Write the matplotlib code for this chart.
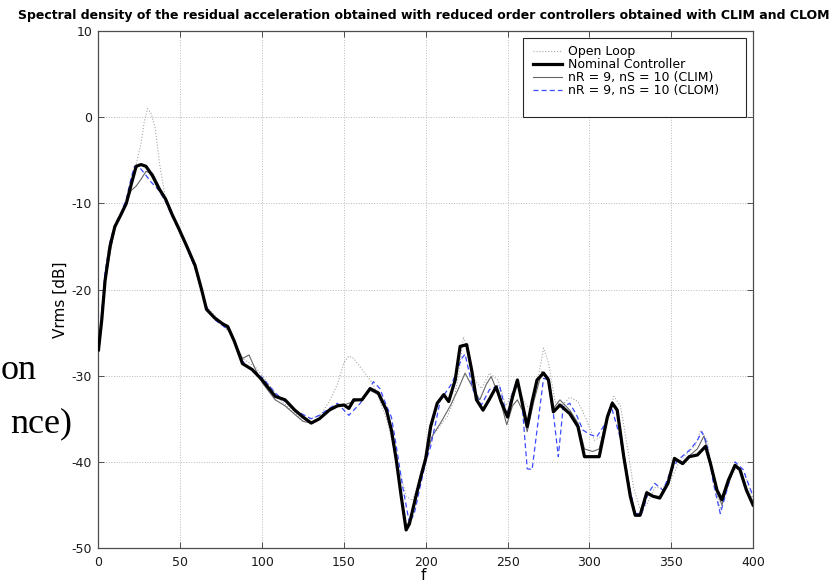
import matplotlib
matplotlib.use('Agg')
import matplotlib.pyplot as plt
from matplotlib.patches import Rectangle

# frequency grids / curves (dB)
f_nom = [0, 2, 4, 7, 10, 14, 17, 20, 23, 26,
         29, 33, 37, 41, 45, 49, 54, 59, 63, 66,
         71, 76, 79, 83, 88, 94, 100, 108, 114, 120,
         125, 130, 135, 141, 146, 150, 153, 156, 161, 166,
         171, 176, 179, 182, 185, 188, 190, 194, 197, 200,
         203, 207, 211, 214, 218, 221, 225, 228, 231, 235,
         239, 243, 246, 250, 253, 256, 259, 262, 265, 268,
         272, 275, 278, 282, 288, 293, 297, 302, 306, 311,
         314, 317, 321, 325, 328, 331, 335, 339, 343, 348,
         352, 357, 361, 366, 371, 374, 378, 381, 385, 389,
         392, 396, 400]
nominal = [-27, -23.5, -19, -15, -12.7, -11.2, -10, -7.8, -5.7, -5.5,
           -5.7, -6.8, -8.3, -9.5, -11.3, -12.9, -15, -17.2, -20, -22.3,
           -23.3, -24, -24.3, -26, -28.6, -29.3, -30.5, -32.4, -32.8, -34,
           -34.8, -35.5, -35, -34, -33.5, -33.4, -33.8, -32.8, -32.8, -31.5,
           -32, -34, -36.3, -39.8, -44, -47.9, -47.2, -44, -41.7, -39.6,
           -35.9, -33.2, -32.2, -33, -30.5, -26.6, -26.4, -29.3, -32.8, -34,
           -32.7, -31.3, -33, -34.8, -32.5, -30.5, -33.2, -35.9, -33, -30.5,
           -29.7, -30.5, -34.2, -33.4, -34.4, -35.9, -39.4, -39.4, -39.4, -34.8,
           -33.2, -34, -39.4, -44, -46.2, -46.2, -43.6, -44, -44.2, -42.5,
           -39.6, -40.2, -39.4, -39.2, -38.2, -40.2, -43.3, -44.4, -42.1, -40.4,
           -40.9, -43.3, -45]

f_clom = [0, 2, 4, 7, 10, 14, 17, 20, 22, 25,
          28, 32, 37, 41, 45, 49, 54, 59, 63, 66,
          71, 76, 80, 84, 88, 94, 100, 108, 114, 120,
          125, 130, 135, 141, 146, 153, 160, 164, 168, 172,
          176, 179, 182, 186, 190, 193, 197, 200, 203, 209,
          212, 216, 222, 224, 229, 234, 239, 245, 249.5, 253,
          256, 259, 262, 265, 268, 272, 275, 278, 281, 284,
          288, 292, 296, 300, 304.5, 308.6, 313.7, 318.7, 322.8, 328,
          332, 336, 340, 345, 349, 354, 361.5, 366, 368.7, 371.7,
          375.8, 380, 384, 389, 394, 400]
clom = [-27, -22.5, -18, -14.5, -12.5, -11, -9.5, -7, -5.7, -5.8,
        -6.5, -7.5, -8.5, -9.8, -11.5, -13, -15.2, -17.5, -20.2, -22,
        -23.5, -24.2, -24.8, -26.5, -28.3, -29.5, -30.2, -32, -33, -34,
        -34.5, -35, -34.6, -33.8, -33.2, -34.6, -33.2, -32, -30.7, -31.5,
        -33.5, -34.8, -38.2, -43, -47.1, -46, -42.5, -40, -38.2, -32.8,
        -32, -30.9, -28, -27.5, -31.7, -33.4, -31.6, -31.1, -34.6, -32,
        -30.5, -33.6, -40.8, -40.9, -36.3, -30.3, -30.5, -34.4, -39.4, -33.6,
        -33.2, -34.5, -36.3, -36.8, -37.1, -35.9, -33.8, -37.1, -41.4, -46,
        -46, -43.6, -42.5, -43.3, -41.4, -39.8, -38.6, -37.5, -36.5, -37.8,
        -42.5, -46, -43.3, -40, -40.9, -44]

f_clim = [0, 4, 10, 17, 20, 23, 26, 29, 33, 37,
          41, 45, 49, 54, 59, 63, 66, 71, 76, 80,
          84, 88, 92, 96, 100, 108, 114, 120, 125, 130,
          135, 141, 146, 150, 156, 161, 166, 171, 176, 179,
          182, 185, 188, 191, 195, 200, 204, 209, 215, 220,
          224, 229, 233, 237, 240, 245, 249.5, 253, 256, 259,
          262, 266, 271, 275, 278, 282, 288, 293, 297, 302,
          306, 311, 314, 317, 321, 325, 328, 331, 335, 339,
          343, 348, 352, 357, 361, 366, 370, 374, 378, 381,
          385, 389, 392, 396, 400]
clim = [-27, -19, -12.8, -10, -8.5, -8, -7.2, -6.3, -6.5, -8,
        -9.5, -11.3, -12.9, -15, -17.2, -20, -22.3, -23.3, -24, -24.8,
        -26.5, -28, -27.6, -29.3, -30.8, -32.8, -33.5, -34.5, -35.3, -35.5,
        -35, -34, -33.6, -33.4, -33, -32.7, -31.7, -32.2, -34.2, -36.5,
        -40, -44, -47.5, -46.5, -43, -39.5, -37, -35.5, -33.5, -31.5,
        -29.7, -31.5, -32.8, -31, -30.1, -32.5, -35.7, -33.5, -32.8, -34,
        -36.5, -33, -29.5, -30.2, -33.8, -32.8, -34, -35.5, -38.5, -38.8,
        -38.5, -34.5, -33, -33.8, -39, -43.5, -46, -46, -43.4, -44,
        -44, -42.3, -39.8, -40.3, -39.3, -38.5, -37, -40, -43.5, -45,
        -42.5, -40.5, -41, -43.3, -45]

f_open = [0, 4, 10, 17, 20, 23, 26, 28, 30, 32,
          34.5, 37.5, 41, 45, 49, 54, 59, 63, 66, 71,
          76, 80, 84, 88, 92, 96, 100, 106, 112, 118,
          124, 130, 136, 141, 146, 150, 153, 156, 160, 164,
          168, 172, 176, 180, 184, 188, 192, 196, 200, 204,
          208, 213, 217, 220, 223, 226, 230, 234, 239, 244,
          249, 253, 256, 260, 264, 268, 272, 275, 279, 283,
          288, 293, 298, 303, 308, 311, 315, 319, 323, 327,
          331, 335, 340, 345, 350, 355, 360, 365, 368, 372,
          376, 380, 385, 390, 395, 400]
open_loop = [-27, -18.8, -12.5, -10, -8, -5.5, -3, -0.5, 1, 0.5,
             -1.1, -5.6, -9.5, -11.5, -13, -15, -17.5, -20, -22, -23,
             -24.2, -25, -26.3, -28, -28.5, -29, -30, -31.5, -33, -34,
             -35, -35, -34.5, -33, -31, -28.5, -27.7, -28, -29, -30,
             -31, -33, -35, -38, -41, -44, -44.5, -42, -39, -37,
             -36, -34.8, -33, -30, -25.5, -27, -30.5, -31.5, -29.7, -30.5,
             -33.5, -32, -31, -33, -34, -31, -26.8, -28.5, -33, -33.5,
             -32.5, -33, -35, -37.5, -37, -35, -32.4, -33.5, -38, -43,
             -45.5, -45, -43, -43, -42, -40, -39, -38, -36.3, -37.5,
             -42, -45.5, -42.5, -40.5, -41.5, -44.5]

labels = ["Open Loop", "Nominal Controller",
          "nR = 9, nS = 10 (CLIM)", "nR = 9, nS = 10 (CLOM)"]
title_text = ("Spectral density of the residual acceleration obtained with "
              "reduced order controllers obtained with CLIM and CLOM")

plt.rcParams['font.family'] = 'DejaVu Sans'
plt.rcParams['axes.unicode_minus'] = False

fig = plt.figure(figsize=(8.34, 5.84), dpi=100)
ax = fig.add_axes([0.1181, 0.0616, 0.7848, 0.8853])

ax.plot(f_open, open_loop, color='0.65', lw=0.8, ls=':', label=labels[0], zorder=2)
ax.plot(f_nom, nominal, color='black', lw=2.3, label=labels[1], zorder=5)
ax.plot(f_clim, clim, color='0.4', lw=0.8, label=labels[2], zorder=3)
ax.plot(f_clom, clom, color='#3a4cff', lw=0.9, ls=(0, (4, 2.5)), label=labels[3], zorder=4)

ax.set_xlim(0, 400)
ax.set_ylim(-50, 10)
ax.set_xticks(range(0, 401, 50))
ax.set_yticks(range(-50, 11, 10))
ax.grid(True, color='0.72', ls=':', lw=0.7)
ax.tick_params(direction='in', top=True, right=True, length=4, width=0.7,
               color='0.3', labelsize=9, labelcolor='0.1')
ax.tick_params(axis='x', pad=6)
ax.tick_params(axis='y', pad=4.5)
for s in ax.spines.values():
    s.set_color('0.3')
    s.set_linewidth(0.9)

ax.set_xlabel('f', fontsize=11)
ax.xaxis.set_label_coords(0.496, -0.054)
ax.xaxis.label.set_va('center')
ax.set_ylabel('Vrms [dB]', fontsize=11)
ax.yaxis.set_label_coords(-0.059, 0.48)
ax.yaxis.label.set_va('center')

# MATLAB style legend box
box = Rectangle((0.6486, 0.8337), 0.3407, 0.1528, transform=ax.transAxes,
                facecolor='white', edgecolor='0.15', lw=0.8, zorder=6)
ax.add_patch(box)
leg = ax.legend(loc='upper left', bbox_to_anchor=(0.6639, 0.972), frameon=False,
                fontsize=9, borderpad=0, borderaxespad=0, labelspacing=0.0,
                handlelength=2.3, handletextpad=0.5)
leg.set_zorder(7)

title = fig.text(424 / 834, 1 - 16 / 584, title_text, ha='center', va='center',
                 fontsize=9, fontweight='bold')
fig.canvas.draw()
w = title.get_window_extent().width
title.set_fontsize(9 * 810 / w)

# leftover slide text at the left edge
fig.text(1 / 834, 1 - 379 / 584, 'on', ha='left', va='baseline',
         family='Liberation Serif', fontsize=26)
fig.text(72 / 834, 1 - 432 / 584, 'nce)', ha='right', va='baseline',
         family='Liberation Serif', fontsize=26)

fig.savefig('out.png', dpi=100)
